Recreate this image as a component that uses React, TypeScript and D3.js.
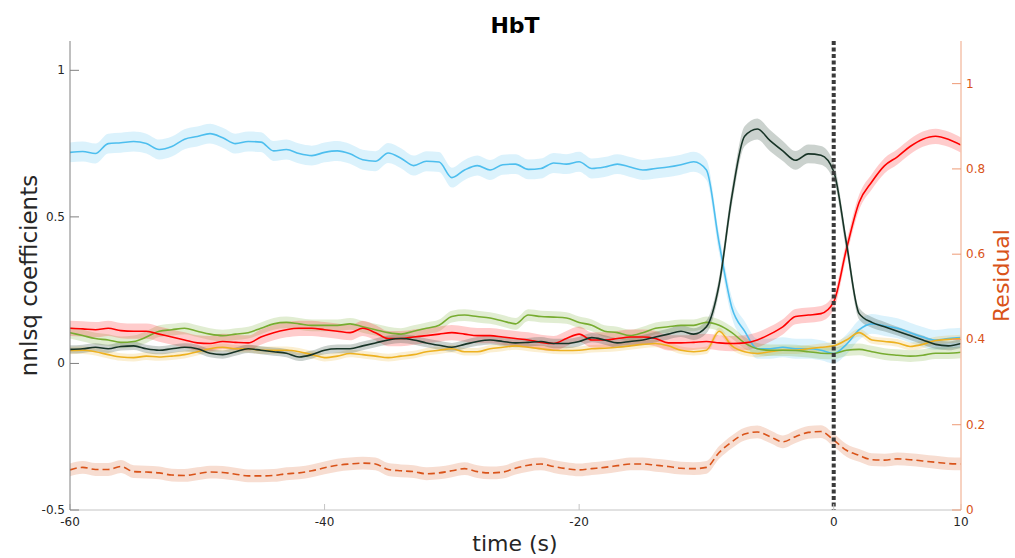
import * as d3 from 'd3';
import React from 'react';

// time grid, one sample per second
const times = d3.range(-60, 11, 1);

const blue = [0.72, 0.723, 0.716, 0.75, 0.753, 0.757, 0.75, 0.73, 0.74, 0.765, 0.774, 0.784, 0.77, 0.75, 0.757, 0.755,
	0.725, 0.73, 0.716, 0.709, 0.72, 0.725, 0.715, 0.695, 0.69, 0.718, 0.70, 0.675, 0.69, 0.687, 0.634, 0.66, 0.675,
	0.66, 0.678, 0.68, 0.662, 0.665, 0.684, 0.68, 0.688, 0.665, 0.67, 0.68, 0.67, 0.66, 0.665, 0.67, 0.678, 0.688,
	0.66, 0.41, 0.19, 0.11, 0.05, 0.05, 0.055, 0.05, 0.05, 0.045, 0.034, 0.065, 0.115, 0.135, 0.128, 0.12, 0.105,
	0.09, 0.08, 0.085, 0.088];

const dark = [0.048, 0.05, 0.055, 0.05, 0.058, 0.06, 0.05, 0.045, 0.05, 0.055, 0.05, 0.035, 0.03, 0.04, 0.05, 0.045,
	0.04, 0.035, 0.022, 0.03, 0.045, 0.05, 0.05, 0.06, 0.07, 0.08, 0.085, 0.08, 0.07, 0.062, 0.055, 0.065, 0.075,
	0.08, 0.075, 0.07, 0.072, 0.075, 0.068, 0.068, 0.075, 0.088, 0.08, 0.07, 0.075, 0.08, 0.09, 0.1, 0.11, 0.10,
	0.125, 0.27, 0.57, 0.775, 0.80, 0.76, 0.725, 0.693, 0.715, 0.71, 0.655, 0.41, 0.17, 0.14, 0.125, 0.11, 0.095,
	0.08, 0.065, 0.06, 0.068];

const red = [0.12, 0.118, 0.115, 0.12, 0.112, 0.11, 0.11, 0.10, 0.09, 0.08, 0.07, 0.068, 0.075, 0.072, 0.07, 0.09,
	0.105, 0.115, 0.12, 0.12, 0.115, 0.11, 0.105, 0.12, 0.105, 0.085, 0.085, 0.09, 0.095, 0.10, 0.105, 0.10, 0.095,
	0.095, 0.09, 0.085, 0.08, 0.072, 0.068, 0.085, 0.10, 0.08, 0.08, 0.085, 0.09, 0.09, 0.085, 0.07, 0.07, 0.072,
	0.075, 0.07, 0.068, 0.07, 0.08, 0.10, 0.125, 0.16, 0.165, 0.17, 0.21, 0.39, 0.55, 0.62, 0.675, 0.705, 0.74,
	0.765, 0.775, 0.765, 0.745];

const green = [0.105, 0.095, 0.085, 0.08, 0.072, 0.075, 0.09, 0.11, 0.115, 0.12, 0.11, 0.10, 0.095, 0.10, 0.105, 0.12,
	0.135, 0.14, 0.135, 0.13, 0.13, 0.13, 0.135, 0.125, 0.115, 0.105, 0.10, 0.11, 0.12, 0.13, 0.16, 0.165, 0.16,
	0.155, 0.145, 0.135, 0.165, 0.16, 0.158, 0.155, 0.14, 0.13, 0.11, 0.105, 0.095, 0.105, 0.12, 0.125, 0.13, 0.13,
	0.14, 0.13, 0.105, 0.07, 0.05, 0.045, 0.045, 0.044, 0.04, 0.035, 0.034, 0.045, 0.048, 0.04, 0.032, 0.028, 0.025,
	0.028, 0.035, 0.035, 0.038];

const yellow = [0.044, 0.045, 0.04, 0.03, 0.022, 0.02, 0.025, 0.022, 0.025, 0.03, 0.04, 0.05, 0.055, 0.05, 0.05, 0.045,
	0.045, 0.045, 0.04, 0.03, 0.02, 0.025, 0.034, 0.03, 0.025, 0.02, 0.025, 0.03, 0.04, 0.045, 0.05, 0.04, 0.04,
	0.05, 0.055, 0.06, 0.055, 0.05, 0.045, 0.044, 0.045, 0.05, 0.052, 0.055, 0.06, 0.065, 0.068, 0.06, 0.045, 0.04,
	0.045, 0.11, 0.06, 0.04, 0.034, 0.04, 0.045, 0.045, 0.05, 0.055, 0.06, 0.08, 0.105, 0.08, 0.075, 0.07, 0.058,
	0.065, 0.078, 0.082, 0.085];

// residual, right axis
const residual = [0.094, 0.1, 0.095, 0.095, 0.102, 0.09, 0.089, 0.087, 0.082, 0.081, 0.085, 0.089, 0.088, 0.084, 0.08,
	0.08, 0.081, 0.085, 0.087, 0.092, 0.099, 0.105, 0.108, 0.11, 0.108, 0.095, 0.092, 0.09, 0.085, 0.087, 0.092,
	0.097, 0.09, 0.087, 0.089, 0.098, 0.105, 0.108, 0.102, 0.097, 0.094, 0.097, 0.1, 0.104, 0.108, 0.108, 0.105,
	0.102, 0.098, 0.097, 0.1, 0.135, 0.16, 0.178, 0.183, 0.172, 0.16, 0.172, 0.182, 0.184, 0.164, 0.14, 0.128,
	0.118, 0.117, 0.12, 0.118, 0.115, 0.112, 0.109, 0.108];

// band half widths
const darkSem = [0.014, 0.014, 0.014, 0.014, 0.014, 0.014, 0.014, 0.014, 0.014, 0.014, 0.014, 0.014, 0.014, 0.014, 0.014, 0.014,
	0.014, 0.014, 0.014, 0.014, 0.014, 0.015, 0.015, 0.015, 0.015, 0.015, 0.015, 0.015, 0.015, 0.015, 0.015, 0.015, 0.015,
	0.015, 0.015, 0.015, 0.015, 0.015, 0.016, 0.016, 0.016, 0.016, 0.016, 0.016, 0.016, 0.017, 0.018, 0.018, 0.02, 0.02,
	0.022, 0.026, 0.03, 0.034, 0.036, 0.036, 0.034, 0.032, 0.032, 0.032, 0.03, 0.026, 0.02, 0.018, 0.016, 0.015, 0.015,
	0.015, 0.015, 0.015, 0.015];
const blueSem = 0.034;
const redSem = 0.026;
const greenSem = 0.02;
const yellowSem = 0.013;
const residualSem = 0.015;

const yTicksLeft = [-0.5, 0, 0.5, 1];
const yTicksRight = [0, 0.2, 0.4, 0.6, 0.8, 1];
const xTicks = [-60, -40, -20, 0, 10];

const W = 1015;
const H = 558;
const margin = { left: 70, right: 54, top: 41, bottom: 48 };

export default function App() {
	const x = d3.scaleLinear().domain([-60, 10]).range([margin.left, W - margin.right]);
	const yL = d3.scaleLinear().domain([-0.5, 1.1]).range([H - margin.bottom, margin.top]);
	const yR = d3.scaleLinear().domain([0, 1.1]).range([H - margin.bottom, margin.top]);

	const series = [
		{ vals: blue, sem: times.map(() => blueSem), color: '#4DBEEE', band: '#4DBEEE', op: 0.2, y: yL },
		{ vals: yellow, sem: times.map(() => yellowSem), color: '#EDB120', band: '#EDB120', op: 0.2, y: yL },
		{ vals: green, sem: times.map(() => greenSem), color: '#77AC30', band: '#77AC30', op: 0.22, y: yL },
		{ vals: red, sem: times.map(() => redSem), color: '#FF0000', band: '#FF0000', op: 0.2, y: yL },
		{ vals: dark, sem: darkSem, color: '#173326', band: '#2f4a3c', op: 0.25, y: yL },
	];

	const bandPath = (vals: number[], sem: number[], y: d3.ScaleLinear<number, number>) =>
		d3.area<number>()
			.curve(d3.curveMonotoneX)
			.x((_, i) => x(times[i]))
			.y0((d, i) => y(d - sem[i]))
			.y1((d, i) => y(d + sem[i]))(vals) || '';

	const linePath = (vals: number[], y: d3.ScaleLinear<number, number>) =>
		d3.line<number>()
			.curve(d3.curveMonotoneX)
			.x((_, i) => x(times[i]))
			.y(d => y(d))(vals) || '';

	const font = 'DejaVu Sans, sans-serif';
	const bottom = H - margin.bottom;
	const orange = '#D95319';

	return (
		<svg width={W} height={H} style={{ position: 'absolute', left: 0, top: 0, background: '#fff' }} fontFamily={font}>
			<defs>
				<clipPath id="plot">
					<rect x={margin.left} y={margin.top} width={W - margin.right - margin.left} height={bottom - margin.top} />
				</clipPath>
			</defs>

			<g clipPath="url(#plot)">
				{series.map((s, i) => (
					<path key={'b' + i} d={bandPath(s.vals, s.sem, s.y)} fill={s.band} fillOpacity={s.op} stroke="none" />
				))}
				<path d={bandPath(residual, times.map(() => residualSem), yR)} fill={orange} fillOpacity={0.2} />
				{series.map((s, i) => (
					<path key={'l' + i} d={linePath(s.vals, s.y)} fill="none" stroke={s.color} strokeWidth={1.6} />
				))}
				<path d={linePath(residual, yR)} fill="none" stroke={orange} strokeWidth={1.6} strokeDasharray="7,4" />
			</g>

			{/* zero marker */}
			<line x1={x(0)} x2={x(0)} y1={margin.top} y2={bottom} stroke="#3a3a3a" strokeWidth={4} strokeDasharray="4,2.5" />

			{/* bottom axis */}
			<line x1={margin.left} x2={W - margin.right} y1={bottom} y2={bottom} stroke="#c4c4c4" strokeWidth={1} />
			{xTicks.map(t => (
				<g key={t}>
					<line x1={x(t)} x2={x(t)} y1={bottom} y2={bottom - 6} stroke="#c4c4c4" />
					<text x={x(t)} y={bottom + 16} textAnchor="middle" fontSize={12} fill="#262626">{t}</text>
				</g>
			))}

			{/* left axis */}
			<line x1={margin.left} x2={margin.left} y1={margin.top} y2={bottom} stroke="#808080" strokeWidth={1} />
			{yTicksLeft.map(t => (
				<g key={t}>
					<line x1={margin.left} x2={margin.left + 9} y1={yL(t)} y2={yL(t)} stroke="#808080" />
					<text x={margin.left - 5} y={yL(t) + 4} textAnchor="end" fontSize={12} fill="#262626">{t}</text>
				</g>
			))}

			{/* right axis */}
			<line x1={W - margin.right} x2={W - margin.right} y1={margin.top} y2={bottom} stroke="#f4c3ad" strokeWidth={1.5} />
			{yTicksRight.map(t => (
				<g key={t}>
					<line x1={W - margin.right - 9} x2={W - margin.right} y1={yR(t)} y2={yR(t)} stroke="#ee9a75" />
					<text x={W - margin.right + 5} y={yR(t) + 4} textAnchor="start" fontSize={12} fill={orange}>{t}</text>
				</g>
			))}

			<text x={515} y={33} textAnchor="middle" fontSize={22} fontWeight="bold" fill="#000">HbT</text>
			<text x={515} y={551} textAnchor="middle" fontSize={22} fill="#262626">time (s)</text>
			<text transform={`translate(37, ${(margin.top + bottom) / 2}) rotate(-90)`} textAnchor="middle" fontSize={23} fill="#262626">nnlsq coefficients</text>
			<text transform={`translate(1009, ${(margin.top + bottom) / 2}) rotate(-90)`} textAnchor="middle" fontSize={22} fill={orange}>Residual</text>
		</svg>
	);
}
